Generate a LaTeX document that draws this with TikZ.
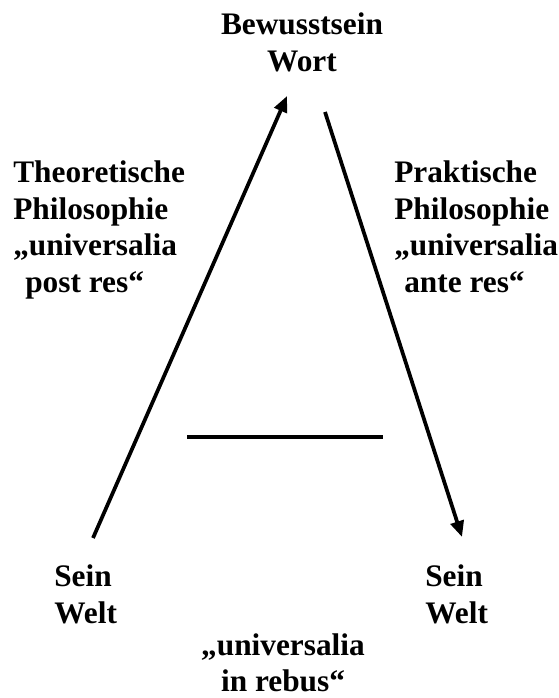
\documentclass[tikz,border=0pt]{standalone}
\usepackage{fontspec}
\setmainfont{Liberation Serif}
\usepackage{tikz}
\usetikzlibrary{arrows.meta, positioning}

\tikzset{
    lbl/.style={inner sep=0pt, font=\fontsize{23.5}{27.4}\selectfont\bfseries},
    pfeil/.style={line width=2.8pt}
}

\begin{document}
\begin{tikzpicture}[>={Triangle[length=12pt, width=10pt]}, x=0.75pt, y=-0.75pt]
    \useasboundingbox (0,0) rectangle (559,698);

    % Các nhãn
    \node[lbl, align=center, anchor=north] (bewusst) at (302,12.5) {Bewusstsein\\Wort};
    \node[lbl, align=left, anchor=north west] (theorie) at (13,160.5)
        {Theoretische\\Philosophie\\„universalia\\\hspace*{9pt}post res“};
    \node[lbl, align=left, anchor=north west] (praxis) at (394,160.5)
        {Praktische\\Philosophie\\„universalia\\\hspace*{7.5pt}ante res“};
    \node[lbl, align=left, anchor=north west] (seinL) at (54,564.5) {Sein\\Welt};
    \node[lbl, align=left, anchor=north west] (seinR) at (425,564.5) {Sein\\Welt};
    \node[lbl, align=center, anchor=north] (rebus) at (283,633) {„universalia\\in rebus“};

    % Điểm đầu, điểm cuối
    \coordinate (aufA) at (93,538);
    \coordinate (aufB) at (287,96);
    \coordinate (abA) at (325,112);
    \coordinate (abB) at (462,537);
    \coordinate (strichA) at (187,437);
    \coordinate (strichB) at (383,437);

    % Mũi tên
    \draw[pfeil, ->] (aufA) -- (aufB);
    \draw[pfeil, ->] (abA) -- (abB);
    \draw[pfeil] (strichA) -- (strichB);

\end{tikzpicture}
\end{document}
